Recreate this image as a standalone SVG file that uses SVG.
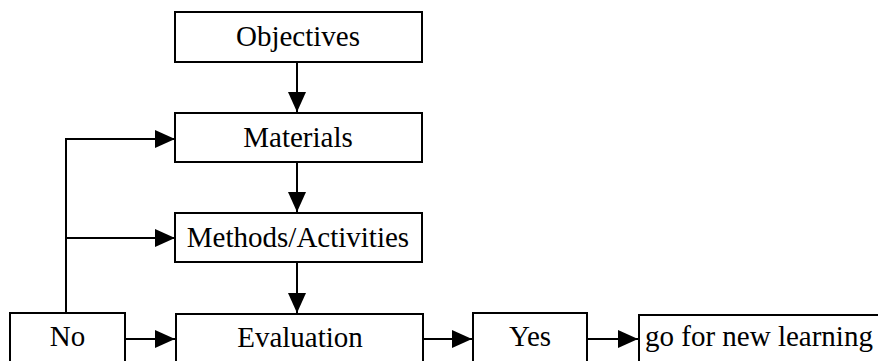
<svg xmlns="http://www.w3.org/2000/svg" width="878" height="361" viewBox="0 0 878 361">
<style>
.box{fill:#fff;stroke:#000;stroke-width:2}
.lbl{font-family:"Liberation Serif","Times New Roman",serif;font-size:29px;fill:#000}
.c{text-anchor:middle}
.ln{fill:none;stroke:#000;stroke-width:2}
</style>
<defs>
<marker id="ah" markerUnits="userSpaceOnUse" markerWidth="20" markerHeight="18" refX="20" refY="9" orient="auto">
<path d="M0,0 L20,9 L0,18 z" fill="#000"/>
</marker>
</defs>
<rect width="878" height="361" fill="#fff"/>
<g id="connectors">
<path class="ln" d="M297,62 V112" marker-end="url(#ah)"/>
<path class="ln" d="M297,162 V212" marker-end="url(#ah)"/>
<path class="ln" d="M297,262 V313" marker-end="url(#ah)"/>
<path class="ln" d="M66,313 V139 H175" marker-end="url(#ah)"/>
<path class="ln" d="M66,238 H175" marker-end="url(#ah)"/>
<path class="ln" d="M125,339 H175" marker-end="url(#ah)"/>
<path class="ln" d="M423,339 H472" marker-end="url(#ah)"/>
<path class="ln" d="M587,339 H638" marker-end="url(#ah)"/>
</g>
<g id="objectives">
<rect class="box" x="175" y="12" width="247" height="50"/>
<text class="lbl c" x="298" y="46">Objectives</text>
</g>
<g id="materials">
<rect class="box" x="175" y="113" width="247" height="49"/>
<text class="lbl c" x="298" y="147">Materials</text>
</g>
<g id="methods">
<rect class="box" x="175" y="213" width="247" height="49"/>
<text class="lbl c" x="298" y="247">Methods/Activities</text>
</g>
<g id="no">
<rect class="box" x="10" y="313" width="115" height="60"/>
<text class="lbl c" x="67.5" y="346">No</text>
</g>
<g id="evaluation">
<rect class="box" x="176" y="314" width="247" height="60"/>
<text class="lbl c" x="300" y="347">Evaluation</text>
</g>
<g id="yes">
<rect class="box" x="473" y="313" width="114" height="60"/>
<text class="lbl c" x="530" y="346">Yes</text>
</g>
<g id="new-learning">
<rect class="box" x="639" y="315" width="260" height="60"/>
<text class="lbl" x="645" y="346">go for new learning</text>
</g>
</svg>
